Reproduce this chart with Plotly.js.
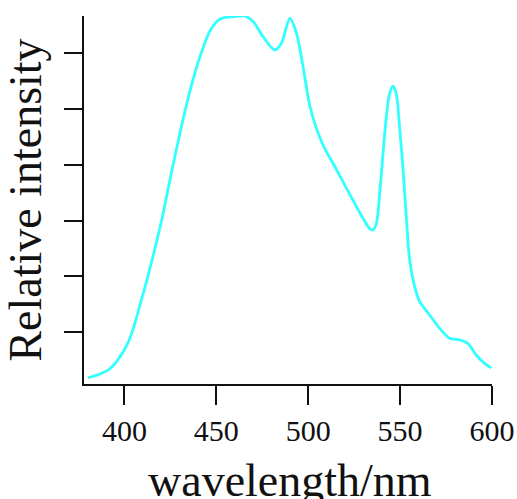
<!DOCTYPE html>
<html>
<head>
<meta charset="utf-8">
<script src="https://cdn.plot.ly/plotly-3.0.1.min.js"></script>
<style>html,body{margin:0;padding:0;background:#fff;}#chart{width:517px;height:499px;}</style>
</head>
<body>
<div id="chart"></div>
<script>
// Wavelength (nm) and relative intensity
const wavelength = [380.2, 386, 391.6, 397.9, 401.5, 404, 408, 412.5, 416, 420.4, 425.7, 429.2, 431.3, 436, 441.4, 446.8, 452.3, 459.1, 465.5, 470, 475.4, 481.8, 485.4, 490, 493.6, 497.2, 500.8, 504.5, 509, 513.5, 518.9, 524.3, 529.8, 533.4, 535.2, 537.1, 538.9, 540.7, 542.5, 544.3, 546.1, 547.9, 549.7, 551.5, 553.4, 555.2, 557.9, 560.6, 566, 571.5, 576.9, 582.3, 586.8, 591.4, 595.9, 599.6];
const intensity = [0.018, 0.024, 0.033, 0.057, 0.078, 0.098, 0.143, 0.197, 0.242, 0.303, 0.388, 0.442, 0.473, 0.537, 0.597, 0.642, 0.662, 0.666, 0.667, 0.657, 0.630, 0.606, 0.618, 0.663, 0.636, 0.576, 0.507, 0.465, 0.429, 0.403, 0.370, 0.337, 0.304, 0.286, 0.283, 0.295, 0.349, 0.420, 0.486, 0.528, 0.541, 0.528, 0.468, 0.397, 0.305, 0.230, 0.182, 0.155, 0.131, 0.107, 0.089, 0.086, 0.080, 0.059, 0.044, 0.036];
const xTicks = [400, 450, 500, 550, 600];
const yTicks = [0.1, 0.2, 0.3, 0.4, 0.5, 0.6];
const xTitle = 'wavelength/nm';
const yTitle = 'Relative intensity';

const font = '"Liberation Serif", "Times New Roman", serif';
const trace = {
  x: wavelength, y: intensity, type: 'scatter', mode: 'lines',
  line: {color: 'rgb(50,255,255)', width: 2.8, shape: 'spline', smoothing: 0.8},
  hoverinfo: 'skip'
};
const layout = {
  width: 517, height: 499,
  margin: {l: 84, r: 25, t: 16, b: 115},
  paper_bgcolor: '#fff', plot_bgcolor: '#fff',
  showlegend: false,
  font: {family: font, color: '#111'},
  xaxis: {
    range: [378, 600], tickvals: xTicks, ticktext: xTicks.map(String),
    showline: true, linecolor: '#111', linewidth: 2, mirror: false,
    ticks: 'outside', ticklen: 19, tickwidth: 2, tickcolor: '#111',
    showgrid: false, zeroline: false,
    tickfont: {family: font, size: 30, color: '#111'}
  },
  yaxis: {
    range: [0.007, 0.667], tickvals: yTicks, showticklabels: false,
    showline: true, linecolor: '#111', linewidth: 2,
    ticks: 'outside', ticklen: 18, tickwidth: 2, tickcolor: '#111',
    showgrid: false, zeroline: false,
    title: {text: yTitle, font: {family: font, size: 46, color: '#111'}, standoff: 12}
  },
  annotations: [{
    text: xTitle, xref: 'paper', yref: 'paper', x: 0.506, y: -0.262,
    xanchor: 'center', yanchor: 'middle', showarrow: false,
    font: {family: font, size: 46, color: '#111'}
  }]
};
Plotly.newPlot('chart', [trace], layout, {staticPlot: true, displayModeBar: false});
</script>
</body>
</html>
